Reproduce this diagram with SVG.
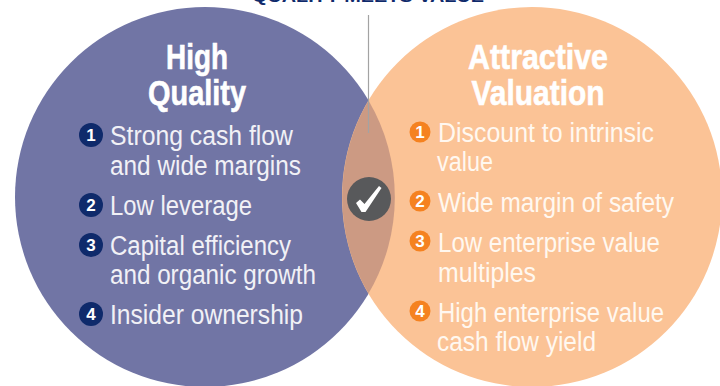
<svg xmlns="http://www.w3.org/2000/svg" width="720" height="386" viewBox="0 0 720 386">
<style>
text{font-family:"Liberation Sans",Arial,sans-serif}
.h{font-size:35px;font-weight:700;fill:#fff;text-anchor:middle;stroke:#fff;stroke-width:.6}
.t{font-size:27px;fill:#f1f1f6}
.o{fill:#fff8f0}
.n{font-size:17px;font-weight:700;fill:#fff;text-anchor:middle}
.bd{fill:#0f2a6b}
.bo{fill:#f58220}
</style>
<rect width="720" height="386" fill="#fff"/>
<text x="368" y="2" font-size="17" font-weight="700" fill="#0f2a6b" text-anchor="middle" textLength="232" lengthAdjust="spacingAndGlyphs">QUALITY MEETS VALUE</text>
<g id="left-circle"><circle cx="205" cy="197" r="190" fill="#7175a5"/></g>
<g id="right-circle"><circle cx="532" cy="197" r="190" fill="#fbc396"/></g>
<g id="overlap"><path d="M368.5 100.500A190 190 0 0 1 368.500 293.500A190 190 0 0 1 368.500 100.500Z" fill="#cc9a83"/></g>
<g id="connectors"><line x1="368.500" y1="15" x2="368.500" y2="133" stroke="#a3a3a3" stroke-width="1.200"/></g>
<g id="check"><circle cx="369" cy="199" r="22" fill="#58595b"/><path d="M356 203L360 199.500L364.500 204L379 186L381.500 188L365.500 212L361.500 212Z" fill="#fff"/></g>
<g id="high-quality">
<text class="h" x="197" y="69" textLength="62" lengthAdjust="spacingAndGlyphs">High</text>
<text class="h" x="197" y="105" textLength="98" lengthAdjust="spacingAndGlyphs">Quality</text>
<circle class="bd" cx="91" cy="135" r="12"/><text class="n" x="91" y="141">1</text>
<text class="t" x="110" y="145" textLength="183" lengthAdjust="spacingAndGlyphs">Strong cash flow</text>
<text class="t" x="110" y="175" textLength="191" lengthAdjust="spacingAndGlyphs">and wide margins</text>
<circle class="bd" cx="91" cy="205" r="12"/><text class="n" x="91" y="211">2</text>
<text class="t" x="110" y="215" textLength="142" lengthAdjust="spacingAndGlyphs">Low leverage</text>
<circle class="bd" cx="91" cy="245" r="12"/><text class="n" x="91" y="251">3</text>
<text class="t" x="110" y="255" textLength="181" lengthAdjust="spacingAndGlyphs">Capital efficiency</text>
<text class="t" x="110" y="284" textLength="206" lengthAdjust="spacingAndGlyphs">and organic growth</text>
<circle class="bd" cx="91" cy="314" r="12"/><text class="n" x="91" y="320">4</text>
<text class="t" x="110" y="324" textLength="193" lengthAdjust="spacingAndGlyphs">Insider ownership</text>
</g>
<g id="attractive-valuation">
<text class="h" x="538" y="69" textLength="140" lengthAdjust="spacingAndGlyphs">Attractive</text>
<text class="h" x="538" y="105" textLength="133" lengthAdjust="spacingAndGlyphs">Valuation</text>
<circle class="bo" cx="420" cy="132" r="10.500"/><text class="n" x="420" y="138">1</text>
<text class="t o" x="438" y="142" textLength="216" lengthAdjust="spacingAndGlyphs">Discount to intrinsic</text>
<text class="t o" x="437" y="171" textLength="56" lengthAdjust="spacingAndGlyphs">value</text>
<circle class="bo" cx="420" cy="201" r="10.500"/><text class="n" x="420" y="207">2</text>
<text class="t o" x="438" y="212" textLength="236" lengthAdjust="spacingAndGlyphs">Wide margin of safety</text>
<circle class="bo" cx="420" cy="241" r="10.500"/><text class="n" x="420" y="247">3</text>
<text class="t o" x="438" y="252" textLength="222" lengthAdjust="spacingAndGlyphs">Low enterprise value</text>
<text class="t o" x="438" y="282" textLength="98" lengthAdjust="spacingAndGlyphs">multiples</text>
<circle class="bo" cx="420" cy="311" r="10.500"/><text class="n" x="420" y="317">4</text>
<text class="t o" x="438" y="322" textLength="226" lengthAdjust="spacingAndGlyphs">High enterprise value</text>
<text class="t o" x="437" y="351" textLength="159" lengthAdjust="spacingAndGlyphs">cash flow yield</text>
</g>
</svg>
